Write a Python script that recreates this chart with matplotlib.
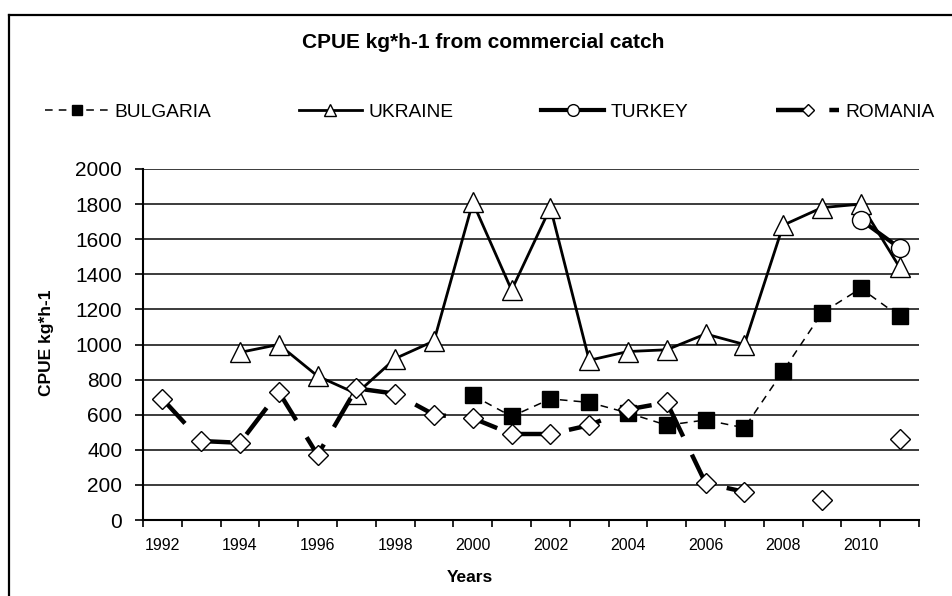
import matplotlib
matplotlib.use("Agg")
import matplotlib.pyplot as plt
from matplotlib.lines import Line2D
from matplotlib.ticker import MultipleLocator
import numpy as np

plt.rcParams['font.family'] = ['Liberation Sans', 'DejaVu Sans']

nan = np.nan
years = list(range(1992, 2012))
year_labels = list(range(1992, 2012, 2))

bulgaria = [nan, nan, nan, nan, nan, nan, nan, nan,
            710, 590, 690, 670, 610, 540, 570, 525, 850, 1180, 1320, 1160]
ukraine = [nan, nan, 955, 1000, 820, 720, 920, 1020,
           1810, 1310, 1780, 910, 960, 970, 1060, 1000, 1680, 1780, 1800, 1440]
turkey = [nan] * 18 + [1710, 1550]
romania = [690, 450, 440, 730, 370, 750, 720, 600,
           580, 490, 490, 540, 630, 670, 210, 160, nan, 115, nan, 460]

fig = plt.figure(figsize=(9.52, 5.96), dpi=100)
ax = fig.add_axes([143/952, 1-520/596, (919-143)/952, (520-169)/596])

# horizontal grid
for v in range(200, 2001, 200):
    ax.axhline(v, color='#1a1a1a', lw=1.2, zorder=0)

ax.plot(years, bulgaria, color='black', lw=1.1, linestyle=(0, (5, 4)),
        marker='s', ms=11, mfc='black', mec='black', label='BULGARIA')
ax.plot(years, ukraine, color='black', lw=2.0, marker='^', ms=14,
        mfc='white', mec='black', mew=1.0, label='UKRAINE')
ax.plot(years, turkey, color='black', lw=3.0, marker='o', ms=13,
        mfc='white', mec='black', mew=1.0, label='TURKEY')
ax.plot(years, romania, color='black', lw=3.2, linestyle=(0, (7.5, 4.5)),
        marker='D', ms=10, mfc='white', mec='black', mew=1.0, label='ROMANIA')

ax.set_xlim(1991.5, 2011.5)
ax.set_ylim(0, 2000)
ax.yaxis.set_major_locator(MultipleLocator(200))
ax.set_xticks(year_labels)
ax.set_xticklabels([str(y) for y in year_labels])
ax.set_xticks(np.arange(1991.5, 2012, 1), minor=True)
ax.tick_params(axis='x', which='major', length=0, pad=13, labelsize=11.5)
ax.tick_params(axis='x', which='minor', length=5, width=1.2, direction='out')
ax.tick_params(axis='y', length=6, width=1.2, direction='out', pad=9, labelsize=15)

for s in ['top', 'right']:
    ax.spines[s].set_visible(False)
ax.spines['left'].set_linewidth(1.5)
ax.spines['bottom'].set_linewidth(1.5)

fig.text(483/952, 1-43/596, 'CPUE kg*h-1 from commercial catch',
         ha='center', va='center', fontsize=15, fontweight='bold')
fig.text(47/952, 1-343/596, 'CPUE kg*h-1', rotation=90,
         ha='center', va='center', fontsize=12.5, fontweight='bold')
fig.text(470/952, 1-578/596, 'Years', ha='center', va='center',
         fontsize=12.5, fontweight='bold')

handles, labels = ax.get_legend_handles_labels()
fig.legend(handles, labels, ncol=4, loc='center',
           bbox_to_anchor=(490/952, 1-112/596), frameon=False,
           fontsize=13.8, handlelength=3.3, handletextpad=0.35,
           columnspacing=4.55, markerscale=0.65)

# chart frame (left and top edges visible)
fig.add_artist(Line2D([8.5/952, 8.5/952], [0, 1-15/596], color='black', lw=1.6))
fig.add_artist(Line2D([8.5/952, 1], [1-15/596, 1-15/596], color='black', lw=1.6))

fig.savefig('out.png', dpi=100)
